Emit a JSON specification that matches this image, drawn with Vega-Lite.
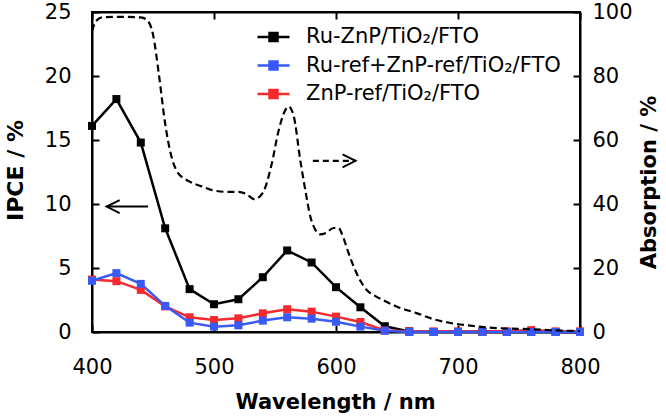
{
  "$schema": "https://vega.github.io/schema/vega-lite/v6.json",
  "width": 488,
  "height": 320,
  "autosize": "none",
  "padding": {"left": 92, "top": 12, "right": 86, "bottom": 85},
  "background": "white",
  "config": {
    "font": "DejaVu Sans",
    "view": {"stroke": "black", "strokeWidth": 2},
    "axis": {
      "grid": false,
      "domainColor": "black",
      "domainWidth": 2,
      "tickColor": "black",
      "tickWidth": 2,
      "tickSize": -7,
      "labelFlush": false,
      "labelFont": "DejaVu Sans",
      "labelFontSize": 21,
      "labelColor": "black",
      "titleFont": "DejaVu Sans",
      "titleFontSize": 21,
      "titleFontWeight": "bold",
      "titleColor": "black"
    },
    "legend": {
      "labelFont": "DejaVu Sans",
      "labelFontSize": 21,
      "labelColor": "black",
      "labelLimit": 0
    }
  },
  "datasets": {
    "ipce": [
      {"wl": 400, "series": "Ru-ZnP/TiO₂/FTO", "ipce": 16.1},
      {"wl": 420, "series": "Ru-ZnP/TiO₂/FTO", "ipce": 18.2},
      {"wl": 440, "series": "Ru-ZnP/TiO₂/FTO", "ipce": 14.8},
      {"wl": 460, "series": "Ru-ZnP/TiO₂/FTO", "ipce": 8.1},
      {"wl": 480, "series": "Ru-ZnP/TiO₂/FTO", "ipce": 3.35},
      {"wl": 500, "series": "Ru-ZnP/TiO₂/FTO", "ipce": 2.17},
      {"wl": 520, "series": "Ru-ZnP/TiO₂/FTO", "ipce": 2.56},
      {"wl": 540, "series": "Ru-ZnP/TiO₂/FTO", "ipce": 4.28},
      {"wl": 560, "series": "Ru-ZnP/TiO₂/FTO", "ipce": 6.37},
      {"wl": 580, "series": "Ru-ZnP/TiO₂/FTO", "ipce": 5.43},
      {"wl": 600, "series": "Ru-ZnP/TiO₂/FTO", "ipce": 3.5},
      {"wl": 620, "series": "Ru-ZnP/TiO₂/FTO", "ipce": 1.93},
      {"wl": 640, "series": "Ru-ZnP/TiO₂/FTO", "ipce": 0.45},
      {"wl": 660, "series": "Ru-ZnP/TiO₂/FTO", "ipce": 0.05},
      {"wl": 680, "series": "Ru-ZnP/TiO₂/FTO", "ipce": 0},
      {"wl": 700, "series": "Ru-ZnP/TiO₂/FTO", "ipce": 0},
      {"wl": 720, "series": "Ru-ZnP/TiO₂/FTO", "ipce": 0},
      {"wl": 740, "series": "Ru-ZnP/TiO₂/FTO", "ipce": 0},
      {"wl": 760, "series": "Ru-ZnP/TiO₂/FTO", "ipce": 0},
      {"wl": 780, "series": "Ru-ZnP/TiO₂/FTO", "ipce": 0},
      {"wl": 800, "series": "Ru-ZnP/TiO₂/FTO", "ipce": 0},
      {"wl": 400, "series": "ZnP-ref/TiO₂/FTO", "ipce": 4.1},
      {"wl": 420, "series": "ZnP-ref/TiO₂/FTO", "ipce": 3.97},
      {"wl": 440, "series": "ZnP-ref/TiO₂/FTO", "ipce": 3.29},
      {"wl": 460, "series": "ZnP-ref/TiO₂/FTO", "ipce": 2.0},
      {"wl": 480, "series": "ZnP-ref/TiO₂/FTO", "ipce": 1.15},
      {"wl": 500, "series": "ZnP-ref/TiO₂/FTO", "ipce": 0.94},
      {"wl": 520, "series": "ZnP-ref/TiO₂/FTO", "ipce": 1.07},
      {"wl": 540, "series": "ZnP-ref/TiO₂/FTO", "ipce": 1.46},
      {"wl": 560, "series": "ZnP-ref/TiO₂/FTO", "ipce": 1.78},
      {"wl": 580, "series": "ZnP-ref/TiO₂/FTO", "ipce": 1.59},
      {"wl": 600, "series": "ZnP-ref/TiO₂/FTO", "ipce": 1.2},
      {"wl": 620, "series": "ZnP-ref/TiO₂/FTO", "ipce": 0.78},
      {"wl": 640, "series": "ZnP-ref/TiO₂/FTO", "ipce": 0.12},
      {"wl": 660, "series": "ZnP-ref/TiO₂/FTO", "ipce": 0.05},
      {"wl": 680, "series": "ZnP-ref/TiO₂/FTO", "ipce": 0.05},
      {"wl": 700, "series": "ZnP-ref/TiO₂/FTO", "ipce": 0.05},
      {"wl": 720, "series": "ZnP-ref/TiO₂/FTO", "ipce": 0.05},
      {"wl": 740, "series": "ZnP-ref/TiO₂/FTO", "ipce": 0.05},
      {"wl": 760, "series": "ZnP-ref/TiO₂/FTO", "ipce": 0.15},
      {"wl": 780, "series": "ZnP-ref/TiO₂/FTO", "ipce": 0.05},
      {"wl": 800, "series": "ZnP-ref/TiO₂/FTO", "ipce": 0.05},
      {"wl": 400, "series": "Ru-ref+ZnP-ref/TiO₂/FTO", "ipce": 4.0},
      {"wl": 420, "series": "Ru-ref+ZnP-ref/TiO₂/FTO", "ipce": 4.6},
      {"wl": 440, "series": "Ru-ref+ZnP-ref/TiO₂/FTO", "ipce": 3.76},
      {"wl": 460, "series": "Ru-ref+ZnP-ref/TiO₂/FTO", "ipce": 2.04},
      {"wl": 480, "series": "Ru-ref+ZnP-ref/TiO₂/FTO", "ipce": 0.73},
      {"wl": 500, "series": "Ru-ref+ZnP-ref/TiO₂/FTO", "ipce": 0.42},
      {"wl": 520, "series": "Ru-ref+ZnP-ref/TiO₂/FTO", "ipce": 0.52},
      {"wl": 540, "series": "Ru-ref+ZnP-ref/TiO₂/FTO", "ipce": 0.89},
      {"wl": 560, "series": "Ru-ref+ZnP-ref/TiO₂/FTO", "ipce": 1.15},
      {"wl": 580, "series": "Ru-ref+ZnP-ref/TiO₂/FTO", "ipce": 1.04},
      {"wl": 600, "series": "Ru-ref+ZnP-ref/TiO₂/FTO", "ipce": 0.8},
      {"wl": 620, "series": "Ru-ref+ZnP-ref/TiO₂/FTO", "ipce": 0.42},
      {"wl": 640, "series": "Ru-ref+ZnP-ref/TiO₂/FTO", "ipce": 0.1},
      {"wl": 660, "series": "Ru-ref+ZnP-ref/TiO₂/FTO", "ipce": 0},
      {"wl": 680, "series": "Ru-ref+ZnP-ref/TiO₂/FTO", "ipce": 0},
      {"wl": 700, "series": "Ru-ref+ZnP-ref/TiO₂/FTO", "ipce": 0},
      {"wl": 720, "series": "Ru-ref+ZnP-ref/TiO₂/FTO", "ipce": 0},
      {"wl": 740, "series": "Ru-ref+ZnP-ref/TiO₂/FTO", "ipce": 0},
      {"wl": 760, "series": "Ru-ref+ZnP-ref/TiO₂/FTO", "ipce": 0},
      {"wl": 780, "series": "Ru-ref+ZnP-ref/TiO₂/FTO", "ipce": 0},
      {"wl": 800, "series": "Ru-ref+ZnP-ref/TiO₂/FTO", "ipce": 0}
    ],
    "absorption": [
      {"wl": 400, "abs": 94},
      {"wl": 403, "abs": 97},
      {"wl": 408, "abs": 98.3},
      {"wl": 420, "abs": 98.5},
      {"wl": 440, "abs": 98.3},
      {"wl": 445, "abs": 97.5},
      {"wl": 450, "abs": 93},
      {"wl": 455, "abs": 80},
      {"wl": 460, "abs": 65},
      {"wl": 465, "abs": 55},
      {"wl": 470, "abs": 50},
      {"wl": 480, "abs": 47},
      {"wl": 490, "abs": 45.5},
      {"wl": 500, "abs": 44.2},
      {"wl": 510, "abs": 43.8},
      {"wl": 520, "abs": 43.8},
      {"wl": 527, "abs": 43},
      {"wl": 533, "abs": 41.5},
      {"wl": 540, "abs": 43.5},
      {"wl": 547, "abs": 52},
      {"wl": 553, "abs": 63},
      {"wl": 558, "abs": 69},
      {"wl": 561, "abs": 70.5},
      {"wl": 565, "abs": 68},
      {"wl": 571, "abs": 53},
      {"wl": 575, "abs": 44},
      {"wl": 579, "abs": 36},
      {"wl": 583, "abs": 32},
      {"wl": 587, "abs": 30.5},
      {"wl": 592, "abs": 31},
      {"wl": 598, "abs": 32.5},
      {"wl": 602, "abs": 32.5},
      {"wl": 606, "abs": 29.5},
      {"wl": 610, "abs": 25},
      {"wl": 615, "abs": 20},
      {"wl": 620, "abs": 16},
      {"wl": 625, "abs": 13.2},
      {"wl": 632, "abs": 11.3},
      {"wl": 640, "abs": 9.7},
      {"wl": 650, "abs": 7.9},
      {"wl": 666, "abs": 5.9},
      {"wl": 680, "abs": 4},
      {"wl": 694, "abs": 2.8},
      {"wl": 710, "abs": 2},
      {"wl": 721, "abs": 1.5},
      {"wl": 740, "abs": 1.1},
      {"wl": 762, "abs": 0.85},
      {"wl": 780, "abs": 0.5},
      {"wl": 800, "abs": 0.3}
    ],
    "arrowLeft": [{"wl": 446, "wl2": 412, "ipce": 9.8}],
    "arrowRight": [{"wl": 581, "wl2": 616, "abs": 53.5}]
  },
  "layer": [
    {
      "encoding": {
        "x": {
          "field": "wl", "type": "quantitative",
          "scale": {"domain": [400, 800], "nice": false, "zero": false, "padding": 0},
          "axis": {
            "orient": "bottom",
            "values": [400, 500, 600, 700, 800],
            "labelPadding": 31,
            "title": "Wavelength / nm",
            "titleX": 243, "titleY": 76,
            "titleAlign": "center", "titleBaseline": "alphabetic"
          }
        },
        "y": {
          "field": "ipce", "type": "quantitative",
          "scale": {"domain": [0, 25], "nice": false, "padding": 0},
          "axis": {
            "orient": "left",
            "values": [0, 5, 10, 15, 20, 25],
            "labelPadding": 28,
            "title": "IPCE / %",
            "titleAngle": 270,
            "titleX": -70, "titleY": 158,
            "titleAlign": "center", "titleBaseline": "alphabetic",
            "titleFontSize": 22
          }
        }
      },
      "layer": [
        {
          "data": {"name": "ipce"},
          "mark": {"type": "line", "strokeWidth": 2.5},
          "encoding": {
            "color": {
              "field": "series", "type": "nominal",
              "scale": {
                "domain": ["Ru-ZnP/TiO₂/FTO", "Ru-ref+ZnP-ref/TiO₂/FTO", "ZnP-ref/TiO₂/FTO"],
                "range": ["#000000", "#3a5af5", "#f22a2e"]
              },
              "legend": {
                "title": null,
                "orient": "none",
                "legendX": 164,
                "legendY": 11,
                "padding": 0,
                "offset": 0,
                "symbolType": "M-1,0H1M-0.25,-0.25H0.25V0.25H-0.25Z",
                "symbolSize": 1024,
                "symbolStrokeWidth": 2.5,
                "clipHeight": 28,
                "rowPadding": 0.5,
                "labelOffset": 15,
                "encode": {"symbols": {"update": {"fill": {"scale": "color", "field": "value"}}}}
              }
            }
          }
        },
        {
          "data": {"name": "ipce"},
          "mark": {"type": "point", "shape": "square", "filled": true, "size": 64, "opacity": 1},
          "encoding": {
            "color": {"field": "series", "type": "nominal", "legend": null}
          }
        },
        {
          "data": {"name": "arrowLeft"},
          "mark": {"type": "rule", "color": "black", "strokeWidth": 2},
          "encoding": {"x2": {"field": "wl2"}}
        },
        {
          "data": {"name": "arrowLeft"},
          "mark": {"type": "point", "shape": "M2,-1L0,0L2,1", "size": 169, "filled": false, "color": "black", "strokeWidth": 2, "opacity": 1},
          "encoding": {"x": {"field": "wl2", "type": "quantitative", "scale": {"domain": [400, 800], "nice": false, "zero": false, "padding": 0}}}
        }
      ]
    },
    {
      "encoding": {
        "x": {
          "field": "wl", "type": "quantitative",
          "scale": {"domain": [400, 800], "nice": false, "zero": false, "padding": 0},
          "axis": {
            "orient": "top",
            "values": [400, 500, 600, 700, 800],
            "labels": false,
            "title": null
          }
        },
        "y": {
          "field": "abs", "type": "quantitative",
          "scale": {"domain": [0, 100], "nice": false, "padding": 0},
          "axis": {
            "orient": "right",
            "values": [0, 20, 40, 60, 80, 100],
            "labelPadding": 19,
            "labelAlign": "left",
            "title": "Absorption / %",
            "titleAngle": 270,
            "titleX": 75, "titleY": 170,
            "titleAlign": "center", "titleBaseline": "alphabetic"
          }
        }
      },
      "layer": [
        {
          "data": {"name": "absorption"},
          "mark": {"type": "line", "color": "black", "strokeWidth": 2.2, "strokeDash": [7, 4], "interpolate": "monotone"}
        },
        {
          "data": {"name": "arrowRight"},
          "mark": {"type": "rule", "color": "black", "strokeWidth": 2.2, "strokeDash": [6, 4]},
          "encoding": {"x2": {"field": "wl2"}}
        },
        {
          "data": {"name": "arrowRight"},
          "mark": {"type": "point", "shape": "M-2,-1L0,0L-2,1", "size": 169, "filled": false, "color": "black", "strokeWidth": 2, "opacity": 1},
          "encoding": {"x": {"field": "wl2", "type": "quantitative", "scale": {"domain": [400, 800], "nice": false, "zero": false, "padding": 0}}}
        }
      ]
    }
  ],
  "resolve": {"scale": {"y": "independent"}, "axis": {"x": "independent"}}
}
